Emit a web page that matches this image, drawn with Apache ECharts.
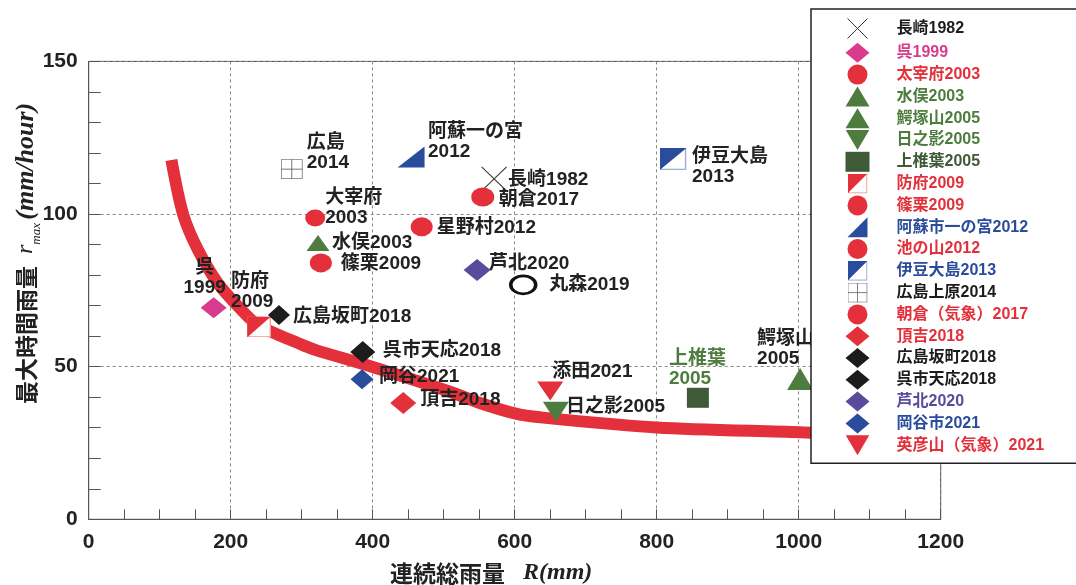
<!DOCTYPE html>
<html>
  <head>
    <meta charset="utf-8">
    <title>最大時間雨量と連続総雨量</title>
    <script src="https://cdn.jsdelivr.net/npm/echarts@6/dist/echarts.min.js"></script>
    <style>
        *{ padding: 0; margin: 0; }
        body{ width: 1076px; height: 585px; background-color: #ffffff; }
        #chart{ width: 1076px; height: 585px; }
    </style>
  </head>
  <body>
    <div id="chart"></div>
    <script type="text/javascript">
        // 凡例の名前（丸森2019 は凡例なし）
        var seriesNames = ['長崎1982', '呉1999', '太宰府2003', '水俣2003', '鰐塚山2005', '日之影2005', '上椎葉2005',
            '防府2009', '篠栗2009', '阿蘇市一の宮2012', '池の山2012', '伊豆大島2013', '広島上原2014',
            '朝倉（気象）2017', '頂吉2018', '広島坂町2018', '呉市天応2018', '芦北2020', '岡谷市2021',
            '英彦山（気象）2021', '丸森2019'];
        // 図中のラベル
        var pointLabels = ['長崎1982', '呉\n1999', '大宰府\n2003', '水俣2003', '鰐塚山\n2005', '日之影2005', '上椎葉\n2005',
            '防府\n2009', '篠栗2009', '阿蘇一の宮\n2012', '星野村2012', '伊豆大島\n2013', '広島\n2014',
            '朝倉2017', '頂吉2018', '広島坂町2018', '呉市天応2018', '芦北2020', '岡谷2021',
            '添田2021', '丸森2019'];
        // 連続総雨量 R(mm)
        var totalRain = [571, 176, 319, 323, 1002, 658, 858, 240, 327, 454, 469, 823, 286, 555, 443, 268, 386, 547, 385, 650, 612];
        // 最大時間雨量 r_max(mm/hour)
        var maxHourly = [111.5, 69.3, 98.7, 90.5, 46, 35.2, 39.8, 63, 84, 118.7, 95.8, 118, 114.7, 105.6, 38.1, 66.9, 54.8, 81.7, 45.9, 42, 76.8];
        // 赤い境界線
        var curveRain = [116.5, 133, 154, 182, 211, 238, 298, 319, 400, 509, 551, 600, 636, 800, 1002, 1025];
        var curveMax = [117.7, 99.9, 88.2, 77.3, 69.6, 63.7, 57.4, 55.5, 49.9, 41.8, 38.1, 34.7, 33.4, 30.1, 28.5, 28.2];

        var RED = '#e3303a', PINK = '#d93c8c', GREEN = '#4e7c3e', DKGREEN = '#3f5a36',
            BLUE = '#2a4c9c', PURPLE = '#5a4a9c', BLACK = '#1c1c1c';
        var FONT = "'Liberation Sans', 'Noto Sans CJK JP', sans-serif";
        var DOWN = 'path://M0,0L20,0L10,17Z';

        function svgIcon(body) {
            return 'image://data:image/svg+xml;charset=utf-8,' + encodeURIComponent(
                "<svg xmlns='http://www.w3.org/2000/svg' width='24' height='24' viewBox='0 0 24 24'>" + body + "</svg>");
        }
        var hofuIcon = svgIcon("<rect x='0.75' y='0.75' width='22.5' height='22.5' fill='#fff' stroke='#f2a0a4' stroke-width='1.5'/><path d='M0,0H24L0,24Z' fill='" + RED + "'/>");
        var izuIcon = svgIcon("<rect x='0.75' y='0.75' width='22.5' height='22.5' fill='#fff' stroke='#9fb0d8' stroke-width='1.5'/><path d='M0,0H24L0,24Z' fill='" + BLUE + "'/>");
        var gridIcon = svgIcon("<rect x='0.5' y='0.5' width='23' height='23' fill='#fff' stroke='#666'/><path d='M12,0V24M0,12H24' stroke='#666'/>");

        // 記号の形・大きさ・色、ラベル位置（記号中心からのずれ）
        var marks = [
            {symbol: 'path://M0,0L20,20M20,0L0,20', size: [25, 24], color: 'none', border: '#333', bw: 1, text: BLACK, off: [14, 1]},
            {symbol: 'diamond', size: [26, 21], color: PINK, text: PINK, off: [-9, -30], align: 'center'},
            {symbol: 'circle', size: [20, 17], color: RED, text: RED, off: [10, -10]},
            {symbol: 'triangle', size: [23, 16], color: GREEN, text: GREEN, off: [14, 0]},
            {symbol: 'triangle', size: [26, 22], color: GREEN, text: GREEN, off: [-43, -30]},
            {symbol: DOWN, size: [26, 20], color: GREEN, text: GREEN, off: [10, -5]},
            {symbol: 'rect', size: [22, 20], color: DKGREEN, text: DKGREEN, off: [-29, -29], labelColor: GREEN},
            {symbol: hofuIcon, size: [24, 21], color: RED, text: RED, off: [-28, -35]},
            {symbol: 'circle', size: [22, 19], color: RED, text: RED, off: [20, 1]},
            {symbol: 'path://M0,20L20,20L20,0Z', size: [27, 21], color: BLUE, text: BLUE, off: [17, -15]},
            {symbol: 'circle', size: [22, 19], color: RED, text: RED, off: [15, 1]},
            {symbol: izuIcon, size: [27, 22], color: BLUE, text: BLUE, off: [19, 8]},
            {symbol: gridIcon, size: [22, 20], color: '#666', text: BLACK, off: [15, -16]},
            {symbol: 'circle', size: [23, 19], color: RED, text: RED, off: [16, 3]},
            {symbol: 'diamond', size: [26, 22], color: RED, text: RED, off: [17, -3]},
            {symbol: 'diamond', size: [22, 20], color: BLACK, text: BLACK, off: [14, 2]},
            {symbol: 'diamond', size: [25, 22], color: BLACK, text: BLACK, off: [20, -1]},
            {symbol: 'diamond', size: [27, 22], color: PURPLE, text: PURPLE, off: [12, -6]},
            {symbol: 'diamond', size: [23, 20], color: BLUE, text: BLUE, off: [17, -2]},
            {symbol: DOWN, size: [26, 19], color: RED, text: RED, off: [2, -19]},
            {symbol: 'circle', size: [25, 18], color: '#fff', border: '#111', bw: 3, text: BLACK, off: [26, 0]}
        ];

        var series = [{
            name: 'curve',
            type: 'line',
            data: curveRain.map(function (r, i) { return [r, curveMax[i]]; }),
            showSymbol: false,
            smooth: 0.3,
            lineStyle: { color: RED, width: 12, cap: 'butt' },
            z: 2,
            silent: true
        }];

        var legendData = [];
        seriesNames.forEach(function (name, i) {
            var m = marks[i];
            series.push({
                name: name,
                type: 'scatter',
                data: [[totalRain[i], maxHourly[i]]],
                symbol: m.symbol,
                symbolSize: m.size,
                itemStyle: { color: m.color, borderColor: m.border || null, borderWidth: m.bw || 0, opacity: 1 },
                label: {
                    show: true,
                    formatter: pointLabels[i],
                    position: 'inside',
                    align: m.align || 'left',
                    verticalAlign: 'middle',
                    offset: m.off,
                    color: m.labelColor || '#222',
                    fontFamily: FONT,
                    fontWeight: 'bold',
                    fontSize: 19,
                    lineHeight: 20
                },
                z: 3,
                silent: true
            });
            if (name !== '丸森2019') {
                var item = { name: name, textStyle: { color: m.text } };
                if (m.border) item.itemStyle = { borderWidth: 1, borderColor: m.border };
                legendData.push(item);
            }
        });

        var chart = echarts.init(document.getElementById('chart'));
        chart.setOption({
            animation: false,
            backgroundColor: '#ffffff',
            grid: { left: 88.7, right: 135.3, top: 61.4, bottom: 65.7, show: true, borderColor: '#444', borderWidth: 1 },
            xAxis: {
                type: 'value', min: 0, max: 1200, interval: 200,
                axisLine: { show: true, lineStyle: { color: '#555' } },
                axisTick: { show: true, inside: true, length: 10, lineStyle: { color: '#555' } },
                minorTick: { show: true, splitNumber: 4, length: 10, lineStyle: { color: '#555' } },
                axisLabel: { color: '#222', fontFamily: FONT, fontWeight: 'bold', fontSize: 21, margin: 12,
                    formatter: function (v) { return String(v); } },
                splitLine: { show: true, lineStyle: { color: '#888', type: [3, 3] } }
            },
            yAxis: {
                type: 'value', min: 0, max: 150, interval: 50,
                axisLine: { show: true, lineStyle: { color: '#555' } },
                axisTick: { show: true, inside: true, length: 12, lineStyle: { color: '#555' } },
                minorTick: { show: true, splitNumber: 5, length: 12, lineStyle: { color: '#555' } },
                axisLabel: { color: '#222', fontFamily: FONT, fontWeight: 'bold', fontSize: 21, margin: 11 },
                splitLine: { show: true, lineStyle: { color: '#888', type: [3, 3] } }
            },
            legend: {
                orient: 'vertical', left: 811, top: 9,
                padding: [7, 40, 8, 34],
                itemWidth: 24, itemHeight: 20, itemGap: 1.8,
                backgroundColor: '#fff', borderColor: '#222', borderWidth: 1.5,
                selectedMode: false,
                textStyle: { fontFamily: FONT, fontWeight: 'bold', fontSize: 16, padding: [0, 0, 0, 22] },
                data: legendData
            },
            graphic: [{
                type: 'text', x: 390, y: 573,
                style: {
                    text: '{a|連続総雨量}{b|   R(mm)}',
                    align: 'left', verticalAlign: 'middle',
                    rich: {
                        a: { fontFamily: "'Noto Sans CJK JP', sans-serif", fontWeight: 'bold', fontSize: 23, fill: '#222' },
                        b: { fontFamily: "'Liberation Serif', serif", fontStyle: 'italic', fontWeight: 'bold', fontSize: 24, fill: '#222' }
                    }
                }
            }, {
                type: 'text', x: 26, y: 404, rotation: Math.PI / 2,
                style: {
                    text: '{a|最大時間雨量}{r|  r}{s|max }{c|(mm/hour)}',
                    align: 'left', verticalAlign: 'middle',
                    rich: {
                        a: { fontFamily: "'Noto Sans CJK JP', sans-serif", fontWeight: 'bold', fontSize: 23, fill: '#222', lineHeight: 34 },
                        r: { fontFamily: "'Liberation Serif', serif", fontStyle: 'italic', fontSize: 24, fill: '#222', lineHeight: 34 },
                        s: { fontFamily: "'Liberation Serif', serif", fontStyle: 'italic', fontSize: 13, fill: '#222', lineHeight: 34, verticalAlign: 'bottom' },
                        c: { fontFamily: "'Liberation Serif', serif", fontStyle: 'italic', fontWeight: 'bold', fontSize: 26, fill: '#222', lineHeight: 34 }
                    }
                }
            }],
            series: series
        });
    </script>
  </body>
</html>
